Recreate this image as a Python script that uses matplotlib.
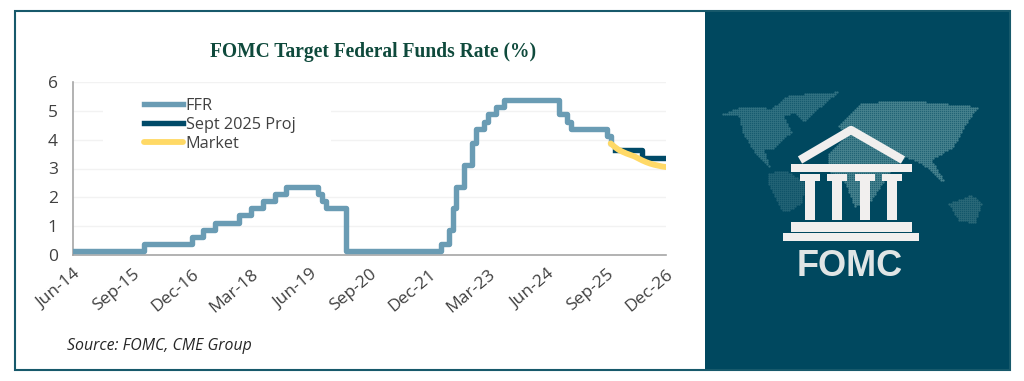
"""FOMC target rate chart with logo panel."""
import numpy as np
import pandas as pd
import matplotlib
matplotlib.use('Agg')
import matplotlib.pyplot as plt
from matplotlib.patches import Rectangle, Polygon
from matplotlib.path import Path

FFR_DATES = ['2014-06', '2015-12', '2016-12', '2017-03', '2017-06', '2017-12', '2018-03', '2018-06',
             '2018-09', '2018-12', '2019-08', '2019-09', '2019-10', '2020-03', '2022-03', '2022-05',
             '2022-06', '2022-07', '2022-09', '2022-11', '2022-12', '2023-02', '2023-03', '2023-05',
             '2023-07', '2024-09', '2024-11', '2024-12', '2025-09', '2025-10']
FFR_VALUES = [0.125, 0.375, 0.625, 0.875, 1.125, 1.375, 1.625, 1.875,
              2.125, 2.375, 2.125, 1.875, 1.625, 0.125, 0.375, 0.875,
              1.625, 2.375, 3.125, 3.875, 4.375, 4.625, 4.875, 5.125,
              5.375, 4.875, 4.625, 4.375, 4.125, 3.875]

PROJ_DATES = ['2025-11', '2026-06', '2026-12']
PROJ_VALUES = [3.625, 3.375, 3.375]

MARKET_DATES = ['2025-10', '2025-11', '2025-12', '2026-01', '2026-02', '2026-03', '2026-04', '2026-05',
                '2026-06', '2026-07', '2026-08', '2026-09', '2026-10', '2026-11', '2026-12']
MARKET_VALUES = [3.87, 3.75, 3.65, 3.58, 3.52, 3.47, 3.42, 3.35,
                 3.28, 3.22, 3.17, 3.13, 3.10, 3.07, 3.05]

TICK_DATES = ['2014-06', '2015-09', '2016-12', '2018-03', '2019-06', '2020-09',
              '2021-12', '2023-03', '2024-06', '2025-09', '2026-12']
TICK_LABELS = ['Jun-14', 'Sep-15', 'Dec-16', 'Mar-18', 'Jun-19', 'Sep-20',
               'Dec-21', 'Mar-23', 'Jun-24', 'Sep-25', 'Dec-26']

# continents of the logo backdrop, traced on the 3x crop of the panel
MAP_SHAPES = [
    [(50, 72), (110, 50), (200, 55), (250, 15), (400, 5), (340, 55), (300, 95), (270, 70), (235, 75), (260, 125),
     (205, 175), (175, 175), (195, 235), (150, 190), (115, 130), (100, 72)],
    [(190, 250), (240, 240), (300, 280), (290, 340), (250, 362), (230, 360), (190, 280)],
    [(400, 105), (470, 40), (600, 30), (820, 50), (790, 90), (745, 170), (680, 210), (725, 285), (650, 220),
     (600, 200), (560, 240), (500, 330), (450, 350), (420, 280), (370, 240), (370, 190), (420, 140)],
    [(730, 340), (800, 315), (830, 340), (810, 400), (760, 390)],
]
MAP_COLOURS = ['#3f7d8b', '#2b6a7b', '#5a919b', '#35717f']

PANEL = '#00485f'
WHITE_ISH = '#f1efee'


def months(dates):
    """Months since the first tick, so every month has the same width."""
    d = pd.to_datetime(dates)
    return (d.year - 2014) * 12 + d.month - 6


def draw_panel(ov):
    """Right hand panel with the temple logo."""
    ov.add_patch(Rectangle((705, 11), 305, 359, fc=PANEL, ec='none'))

    # dotted world map
    gx, gy = np.meshgrid(np.arange(705, 1010, 2.0), np.arange(90, 300, 2.0))
    pts = np.column_stack([gx.ravel(), gy.ravel()])
    for shape, col in zip(MAP_SHAPES, MAP_COLOURS):
        verts = [(705 + x / 3, 90 + y / 3) for x, y in shape]
        inside = pts[Path(verts).contains_points(pts)]
        ov.scatter(inside[:, 0], inside[:, 1], s=2.6, color=col, linewidths=0, alpha=0.8)

    # roof
    ov.plot([800, 851, 903], [160, 130, 160], color=WHITE_ISH, lw=6, solid_joinstyle='round',
            solid_capstyle='butt')
    # beam and steps
    ov.add_patch(Rectangle((791, 164), 121, 8, fc=WHITE_ISH, ec='none'))
    ov.add_patch(Rectangle((791, 222), 121, 10, fc=WHITE_ISH, ec='none'))
    ov.add_patch(Rectangle((783, 233), 136, 8, fc=WHITE_ISH, ec='none'))
    # columns
    for cx in (810, 837, 865, 892):
        ov.add_patch(Polygon([(cx - 10, 174), (cx + 10, 174), (cx + 10, 181), (cx + 5, 181), (cx + 5, 220),
                              (cx - 5, 220), (cx - 5, 181), (cx - 10, 181)], fc=WHITE_ISH, ec='none'))
    ov.text(850, 266, 'FOMC', color='#e0e5e5', fontsize=26, fontweight='bold',
            family='Liberation Sans', ha='center', va='center')


def main():
    """Main."""
    plt.rcParams['font.family'] = ['Open Sans', 'DejaVu Sans']

    fig = plt.figure(figsize=(10.24, 3.81), dpi=100, facecolor='white')

    # overlay in pixel coordinates for the frame and the panel
    ov = fig.add_axes([0, 0, 1, 1], zorder=0)
    ov.set_xlim(0, 1024)
    ov.set_ylim(381, 0)
    ov.axis('off')
    draw_panel(ov)
    ov.add_patch(Rectangle((15, 11), 995, 359, fc='none', ec='#17596b', lw=1.5))

    ax = fig.add_axes([73 / 1024, 1 - 255 / 381, 593 / 1024, 173 / 381], zorder=1)
    ax.patch.set_alpha(0)

    ax.step(months(FFR_DATES), FFR_VALUES, where='post', color='#6a9cb4', lw=3.9,
            solid_joinstyle='round', label='FFR', zorder=3)
    ax.step(months(PROJ_DATES), PROJ_VALUES, where='post', color='#004a68', lw=3.9,
            solid_joinstyle='round', label='Sept 2025 Proj', zorder=3)
    ax.plot(months(MARKET_DATES), MARKET_VALUES, color='#ffd966', lw=4.2,
            solid_capstyle='round', label='Market', zorder=4)

    ax.set_xlim(0, 150)
    ax.set_ylim(0, 6)
    ax.set_yticks(range(7))
    ax.set_xticks(months(TICK_DATES))
    ax.set_xticklabels(TICK_LABELS, rotation=40, ha='right', rotation_mode='anchor')
    ax.tick_params(length=0, labelsize=12.5, labelcolor='#404040')
    ax.tick_params(axis='x', pad=8)
    ax.tick_params(axis='y', pad=11)

    ax.grid(axis='y', color='#f2f2f2', lw=1)
    ax.set_axisbelow(True)
    for side in ('top', 'right'):
        ax.spines[side].set_visible(False)
    for side in ('left', 'bottom'):
        ax.spines[side].set_color('#a6a6a6')
        ax.spines[side].set_linewidth(1.2)

    # white box behind the legend interrupts the gridlines
    ax.add_patch(Rectangle((0.05, 0.58), 0.385, 0.36, transform=ax.transAxes, fc='white', ec='none', zorder=1))
    ax.legend(loc='upper left', bbox_to_anchor=(0.12, 0.91), frameon=False, fontsize=11.7, handlelength=2.4,
              handletextpad=0.15, labelspacing=0.2, borderpad=0, borderaxespad=0, labelcolor='#404040')

    fig.text(373 / 1024, 1 - 52 / 381, 'FOMC Target Federal Funds Rate (%)', family='Liberation Serif',
             fontweight='bold', fontsize=14.05, color='#0f4a3c', ha='center', va='center')
    fig.text(67 / 1024, 1 - 346 / 381, 'Source: FOMC, CME Group', style='italic', fontsize=11.4,
             color='#262626', ha='left', va='center')

    fig.savefig('out.png', dpi=100, facecolor='white')


if __name__ == '__main__':
    main()
